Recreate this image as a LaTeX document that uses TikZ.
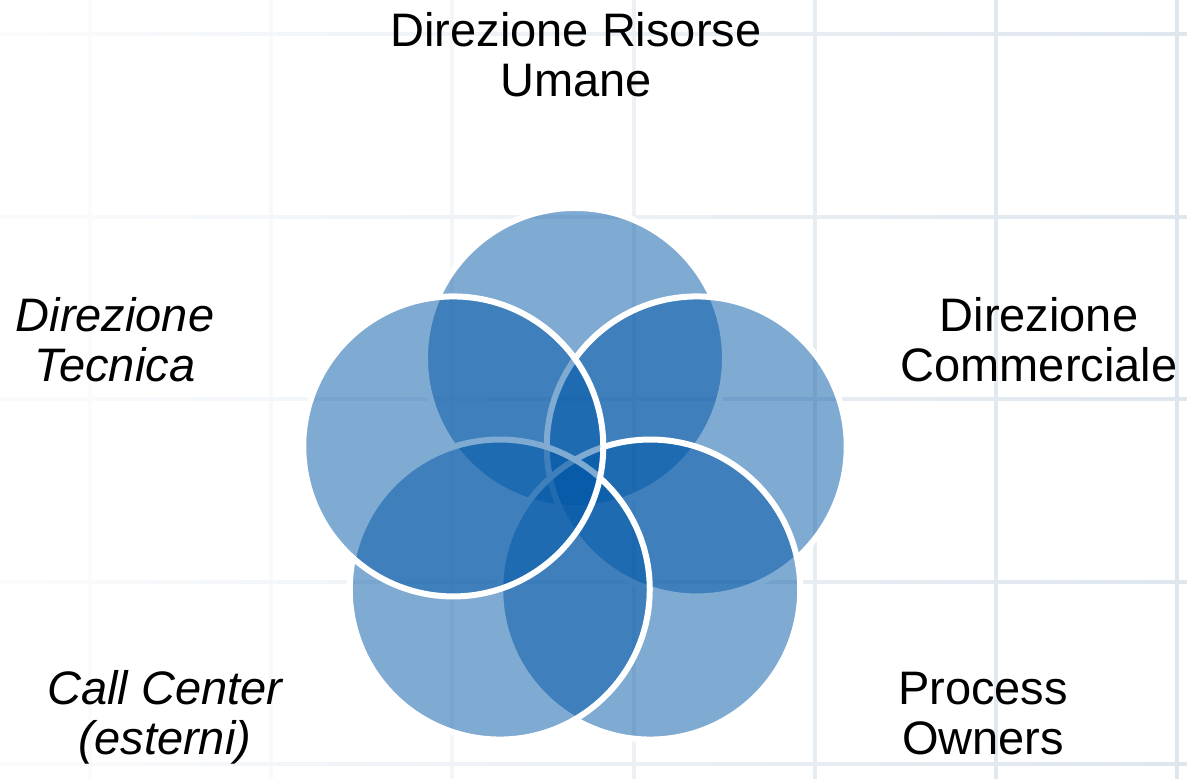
\documentclass[tikz,border=0pt]{standalone}
\usepackage{fontspec}
\setmainfont{Liberation Sans}
\definecolor{ringblue}{RGB}{0,86,166}
\definecolor{gridline}{RGB}{222,230,238}
\tikzset{
  ring/.style={circle, minimum size=150pt, inner sep=0pt, draw=white,
    line width=3pt, fill=ringblue, fill opacity=0.5},
  area/.style={align=center, anchor=base,
    font=\fontsize{23.5}{25}\selectfont},
}

\begin{document}
\begin{tikzpicture}[x=0.5pt,y=0.5pt]
  \useasboundingbox (-575,-293) rectangle (612,486);
  % background grid
  \foreach \gx/\gk in {-485/15,-304/25,-123/38,59/55,240/78,421/92,602/100}
    \draw[gridline!\gk, line width=1.75pt] (\gx,-293) -- (\gx,486);
  \foreach \gy in {452,269,87,-96,-278}
    \shade[left color=gridline!15, right color=gridline]
      (-575,\gy-1.75) rectangle (612,\gy+1.75);

  % the five areas, clockwise from the top
  \node[ring] (hr)     at (90:128)   {};
  \node[ring] (sales)  at (18:128)   {};
  \node[ring] (owners) at (-54:128)  {};
  \node[ring] (callc)  at (-126:128) {};
  \node[ring] (tech)   at (162:128)  {};

  % labels (base = baseline of the last line)
  \node[area] (hr label)     at (1,389)     {Direzione Risorse\\Umane};
  \node[area] (sales label)  at (464,104)   {Direzione\\Commerciale};
  \node[area] (owners label) at (408,-269)  {Process\\Owners};
  \node[area] (callc label)  at (-410,-269) {\itshape Call Center\\\itshape (esterni)};
  \node[area] (tech label)   at (-460,104)  {\itshape Direzione\\\itshape Tecnica};
\end{tikzpicture}
\end{document}
